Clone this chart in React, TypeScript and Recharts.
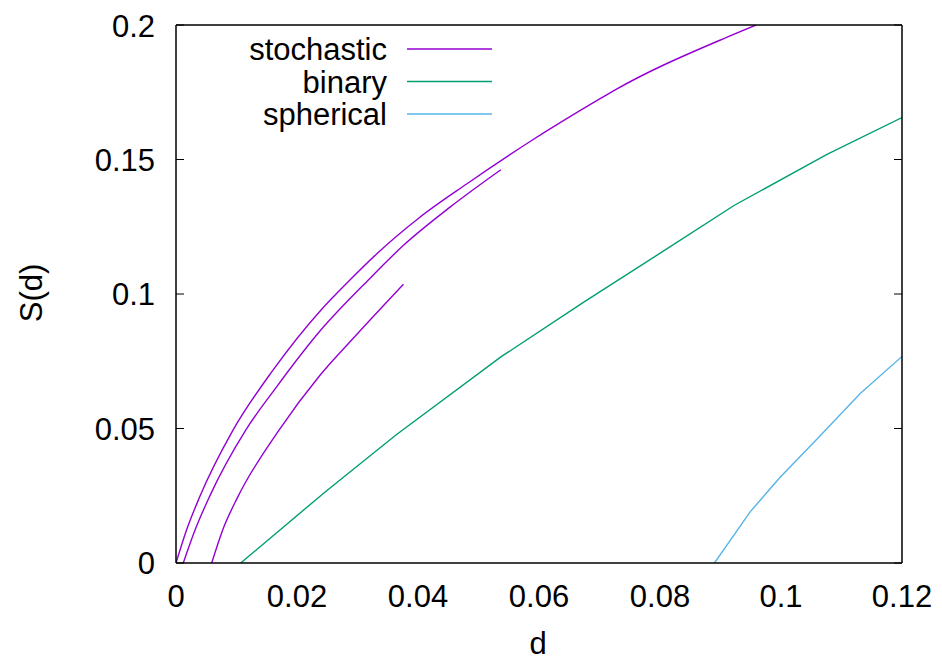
import { Line, LineChart, XAxis, YAxis } from 'recharts';

// values (d on x, S(d) on y)
const stochasticOuterD = [0, 0.0017, 0.0039, 0.0094, 0.016, 0.0239, 0.0287, 0.0332, 0.04, 0.0481, 0.0584, 0.0701, 0.0723, 0.0911, 0.0959];
const stochasticOuterS = [0, 0.012, 0.0245, 0.0493, 0.0716, 0.0939, 0.1051, 0.115, 0.128, 0.141, 0.1565, 0.1726, 0.1755, 0.1955, 0.2];

const stochasticMiddleD = [0.0012, 0.0031, 0.0055, 0.0115, 0.0166, 0.0239, 0.032, 0.0376, 0.0453, 0.0537];
const stochasticMiddleS = [0, 0.012, 0.0245, 0.0493, 0.0654, 0.0865, 0.1057, 0.1181, 0.1323, 0.1462];

const stochasticInnerD = [0.0059, 0.0077, 0.0102, 0.017, 0.0238, 0.0301, 0.0376];
const stochasticInnerS = [0, 0.0122, 0.0245, 0.0493, 0.0698, 0.0855, 0.1036];

const binaryD = [0.0107, 0.0248, 0.0363, 0.0537, 0.0674, 0.0799, 0.0923, 0.1076, 0.12];
const binaryS = [0, 0.0267, 0.0475, 0.0766, 0.097, 0.115, 0.133, 0.1519, 0.1656];

const sphericalD = [0.089, 0.0949, 0.0999, 0.106, 0.1131, 0.12];
const sphericalS = [0, 0.019, 0.032, 0.0462, 0.063, 0.0768];

const xTicks = [0, 0.02, 0.04, 0.06, 0.08, 0.1, 0.12];
const yTicks = [0, 0.05, 0.1, 0.15, 0.2];

const PURPLE = '#9400d3';
const GREEN = '#009e73';
const BLUE = '#56b4e9';
const FONT = '"Liberation Sans", Arial, sans-serif';

const zip = (ds: number[], ss: number[]) => ds.map((d, i) => ({ d, s: ss[i] }));

// the stochastic runs are densely sampled in the original, so they are drawn smooth
const curves = [
  { key: 'stochA', color: PURPLE, smooth: true, data: zip(stochasticOuterD, stochasticOuterS) },
  { key: 'stochB', color: PURPLE, smooth: true, data: zip(stochasticMiddleD, stochasticMiddleS) },
  { key: 'stochC', color: PURPLE, smooth: true, data: zip(stochasticInnerD, stochasticInnerS) },
  { key: 'binary', color: GREEN, smooth: false, data: zip(binaryD, binaryS) },
  { key: 'spherical', color: BLUE, smooth: false, data: zip(sphericalD, sphericalS) },
];

const legendItems = [
  { label: 'stochastic', color: PURPLE },
  { label: 'binary', color: GREEN },
  { label: 'spherical', color: BLUE },
];

const W = 934;
const H = 652;
const tickStyle = { fill: '#000', fontSize: 31, fontFamily: FONT };
const frame = { stroke: '#000', strokeWidth: 1.5 };
const tickMark = { stroke: '#000', strokeWidth: 1 };
const NoLabel = () => <g />;

// gnuplot style: labels outside, tick marks pointing inward on all four sides
export default function App() {
  return (
    <div style={{ position: 'relative', width: W, height: H, fontFamily: FONT }}>
      <LineChart width={W} height={H} margin={{ top: 17, right: 40, bottom: 67, left: 108 }}>
        <XAxis
          dataKey="d"
          type="number"
          domain={[0, 0.12]}
          ticks={xTicks}
          allowDataOverflow
          tickFormatter={(v: number) => String(v)}
          tick={tickStyle}
          tickSize={0}
          tickMargin={22}
          tickLine={false}
          axisLine={false}
          height={30}
        />
        <YAxis
          type="number"
          domain={[0, 0.2]}
          ticks={yTicks}
          allowDataOverflow
          tickFormatter={(v: number) => String(v)}
          tick={tickStyle}
          tickSize={0}
          tickMargin={21}
          tickLine={false}
          axisLine={false}
          width={60}
        />
        {(['bottom', 'top'] as const).map((o) => (
          <XAxis
            key={o}
            xAxisId={o}
            orientation={o}
            mirror
            type="number"
            domain={[0, 0.12]}
            ticks={xTicks}
            allowDataOverflow
            tick={NoLabel}
            tickSize={8}
            tickLine={tickMark}
            axisLine={frame}
            height={30}
          />
        ))}
        {(['left', 'right'] as const).map((o) => (
          <YAxis
            key={o}
            yAxisId={o}
            orientation={o}
            mirror
            type="number"
            domain={[0, 0.2]}
            ticks={yTicks}
            allowDataOverflow
            tick={NoLabel}
            tickSize={8}
            tickLine={tickMark}
            axisLine={frame}
            width={60}
          />
        ))}
        {curves.map((c) => (
          <Line
            key={c.key}
            data={c.data}
            dataKey="s"
            type={c.smooth ? 'monotone' : 'linear'}
            stroke={c.color}
            strokeWidth={1.4}
            dot={false}
            activeDot={false}
            isAnimationActive={false}
          />
        ))}
      </LineChart>
      <svg
        width={W}
        height={H}
        style={{ position: 'absolute', left: 0, top: 0, pointerEvents: 'none' }}
        fontFamily={FONT}
        fontSize={31}
      >
        {legendItems.map((item, i) => {
          const y = 41 + i * 32.5;
          return (
            <g key={item.label}>
              <text x={379} y={y} dy="0.355em" textAnchor="end" fill="#000">
                {item.label}
              </text>
              <line x1={399} x2={484} y1={y} y2={y} stroke={item.color} strokeWidth={1.4} />
            </g>
          );
        })}
        <text x={530} y={635} dy="0.355em" textAnchor="middle" fill="#000">
          d
        </text>
        <text x={23} y={285} dy="0.355em" textAnchor="middle" fill="#000" transform="rotate(-90 23 285)">
          S(d)
        </text>
      </svg>
    </div>
  );
}
